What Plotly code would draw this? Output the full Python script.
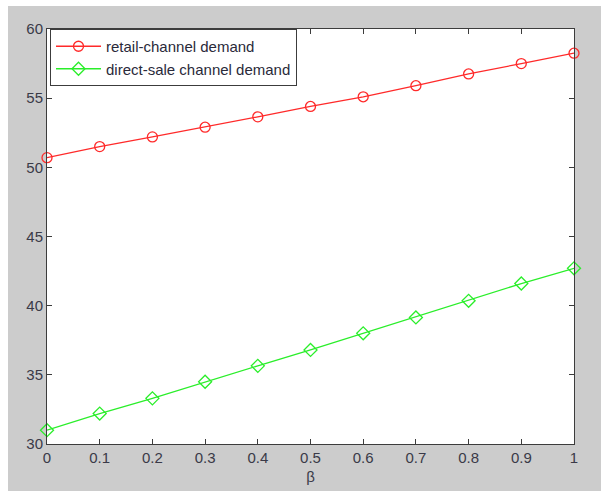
import plotly.graph_objects as go

beta = [0, 0.1, 0.2, 0.3, 0.4, 0.5, 0.6, 0.7, 0.8, 0.9, 1.0]
retail_demand = [50.7, 51.5, 52.2, 52.9, 53.65, 54.4, 55.1, 55.9, 56.75, 57.5, 58.25]
direct_demand = [31.0, 32.2, 33.3, 34.5, 35.65, 36.8, 38.0, 39.15, 40.35, 41.6, 42.7]
x_ticks = [0, 0.1, 0.2, 0.3, 0.4, 0.5, 0.6, 0.7, 0.8, 0.9, 1]
x_tick_text = ["0", "0.1", "0.2", "0.3", "0.4", "0.5", "0.6", "0.7", "0.8", "0.9", "1"]
y_ticks = [30, 35, 40, 45, 50, 55, 60]

# page: white border of 8px left / 6px top, then gray MATLAB figure
OFF_X, OFF_Y = 8, 6
W, H = 601 - OFF_X, 491 - OFF_Y
L, R, T, B = 47 - OFF_X, 27, 29 - OFF_Y, 47
pw = W - L - R

FONT = "Liberation Sans, Arial, sans-serif"

fig = go.Figure()
fig.add_trace(go.Scatter(
    x=beta, y=retail_demand, name="retail-channel demand",
    mode="lines+markers",
    line=dict(color="#ff2a2a", width=1.3),
    marker=dict(symbol="circle-open", size=10, color="#ff2a2a", line=dict(width=1.3)),
    cliponaxis=False,
))
fig.add_trace(go.Scatter(
    x=beta, y=direct_demand, name="direct-sale channel demand",
    mode="lines+markers",
    line=dict(color="#2aee2a", width=1.3),
    marker=dict(symbol="diamond-open", size=10, color="#2aee2a", line=dict(width=1.3)),
    cliponaxis=False,
))

axis_common = dict(
    showgrid=False, zeroline=False, showline=True, linecolor="#3c3c3c", linewidth=1,
    mirror="ticks", ticks="inside", ticklen=5, tickcolor="#3c3c3c",
    tickfont=dict(family=FONT, size=15, color="#3a3a48"),
    automargin=False,
)

fig.update_layout(
    width=W, height=H,
    margin=dict(l=L, r=R, t=T, b=B, autoexpand=False),
    paper_bgcolor="#cccccc",
    plot_bgcolor="white",
    showlegend=True,
    legend=dict(
        x=3 / pw, y=1.0, xanchor="left", yanchor="top",
        bgcolor="white", bordercolor="#3c3c3c", borderwidth=1,
        font=dict(family=FONT, size=15, color="#2a2a3a"),
        itemwidth=45,
    ),
    xaxis=dict(range=[0, 1], tickvals=x_ticks, ticktext=x_tick_text,
               title=dict(text="β", standoff=6,
                          font=dict(family=FONT, size=15, color="#3a3a48")),
               **axis_common),
    yaxis=dict(range=[30, 60], tickvals=y_ticks, **axis_common),
)

fig.write_html(
    "out.html",
    post_script="document.body.style.margin='%dpx 0 0 %dpx';" % (OFF_Y, OFF_X),
)
